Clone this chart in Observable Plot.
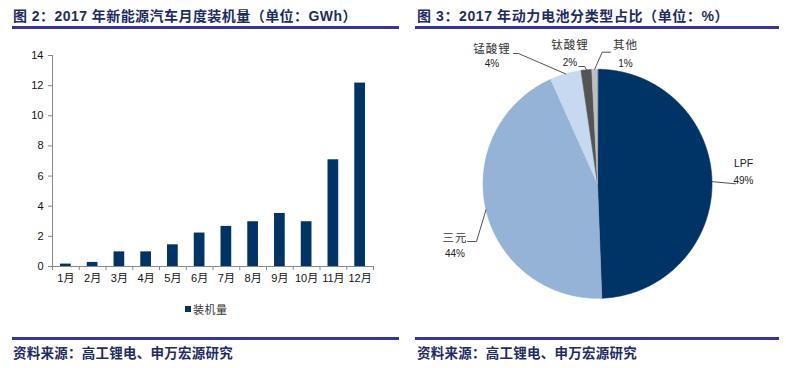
<!DOCTYPE html>
<html><head><meta charset="utf-8">
<script src="https://cdn.jsdelivr.net/npm/d3@7"></script>
<script src="https://cdn.jsdelivr.net/npm/@observablehq/plot@0.6"></script>
<style>
html,body{margin:0;padding:0;background:#fff;}
body{width:786px;height:368px;position:relative;overflow:hidden;font-family:"Liberation Sans","Noto Sans CJK SC",sans-serif;}
.abs{position:absolute;}
.title{font-weight:bold;font-size:14px;line-height:16px;color:#1c2c64;white-space:nowrap;font-family:"Liberation Sans","Noto Sans CJK SC",sans-serif;}
.rule{height:3px;background:#363699;}
.src{font-weight:bold;font-size:13.5px;line-height:16px;color:#1c2c64;white-space:nowrap;letter-spacing:0.25px;font-family:"Noto Sans CJK SC",sans-serif;}
.legend{font-size:11px;line-height:12px;color:#333;white-space:nowrap;letter-spacing:0.5px;font-family:"Noto Sans CJK SC",sans-serif;}
</style>
</head>
<body>
<div class="abs title" style="left:13px;top:8px;letter-spacing:0.45px;">图 2：2017 年新能源汽车月度装机量（单位：GWh）</div>
<div class="abs rule" style="left:12px;top:26px;width:387px;"></div>
<div class="abs title" style="left:417px;top:8px;letter-spacing:0.6px;">图 3：2017 年动力电池分类型占比（单位：%）</div>
<div class="abs rule" style="left:415px;top:26px;width:364px;"></div>

<div id="bar" class="abs" style="left:0;top:0;"></div>
<div id="pie" class="abs" style="left:400px;top:30px;"></div>

<div class="abs" style="left:185px;top:306px;width:6px;height:6px;background:#003366;"></div>
<div class="abs legend" style="left:193px;top:303px;">装机量</div>

<div class="abs rule" style="left:12px;top:337px;width:387px;"></div>
<div class="abs src" style="left:13px;top:344px;">资料来源：高工锂电、申万宏源研究</div>
<div class="abs rule" style="left:415px;top:337px;width:364px;"></div>
<div class="abs src" style="left:417px;top:344px;">资料来源：高工锂电、申万宏源研究</div>

<script>
// ---- data ----
const months = ["1月","2月","3月","4月","5月","6月","7月","8月","9月","10月","11月","12月"];
const installed = [0.16, 0.27, 0.97, 0.97, 1.44, 2.22, 2.66, 2.97, 3.52, 2.97, 7.08, 12.17];
const yTicks = [0, 2, 4, 6, 8, 10, 12, 14];

const pieNames = ["LPF", "三元", "锰酸锂", "钛酸锂", "其他"];
const pieShares = [49.4, 43.9, 4.4, 1.5, 0.8];
const pieLabels = ["49%", "44%", "4%", "2%", "1%"];

// ---- styles / layout ----
const barColor = "#003366";
const pieColors = ["#003366", "#95b3d7", "#c6d9f1", "#545454", "#bfbfbf"];
const R = 114.5; // pie radius in px
// label layout: pixel offsets from pie centre (y down)
const labelLayout = [
  {leader: [[138, 0]], tx: 146, ny: -20.3, py: -3.3},
  {leader: [[-121, 57.7], [-130, 57.7]], tx: -142.5, ny: 55, py: 70},
  {leader: [[-79, -130.3], [-84, -130.3]], tx: -105.5, ny: -134.3, py: -120},
  {leader: [[-12.7, -117.3], [-18.7, -117.3]], tx: -27.5, ny: -138.3, py: -120.6},
  {leader: [[4.7, -131.6], [13, -131.6]], tx: 28, ny: -138.3, py: -120.3}
];

// ---- bar chart ----
const bar = Plot.plot({
  width: 400, height: 320,
  marginLeft: 52, marginRight: 27, marginTop: 55, marginBottom: 54,
  style: {fontFamily: '"Liberation Sans","Noto Sans CJK SC",sans-serif', fontSize: "11px", color: "#111", background: "transparent"},
  x: {domain: [0.5, 12.5]},
  y: {domain: [0, 14]},
  marks: [
    Plot.rect(installed, {x1: (d, i) => i + 1 - 0.2, x2: (d, i) => i + 1 + 0.2, y1: () => 0, y2: d => d, fill: barColor}),
    Plot.ruleX([0.5], {stroke: "#888"}),
    Plot.ruleY([0], {stroke: "#888"}),
    Plot.axisY({ticks: yTicks, tickSize: 4, tickPadding: 5, stroke: "#888", fill: "#111", label: null}),
    Plot.axisX({ticks: d3.range(0.5, 12.6, 1), tickSize: 4, tickFormat: () => "", stroke: "#888", label: null}),
    Plot.axisX({ticks: d3.range(1, 13), tickSize: 0, tickPadding: 8, tickFormat: d => months[d - 1], fill: "#111", label: null})
  ]
});
document.getElementById("bar").appendChild(bar);

// ---- pie chart ----
const arcs = d3.pie().sort(null).value(d => d)(pieShares);
const slicePts = [];
const leaderPts = [];
const textRows = [];
arcs.forEach((a, i) => {
  const name = pieNames[i];
  slicePts.push({name, x: 0, y: 0});
  const n = Math.max(2, Math.ceil((a.endAngle - a.startAngle) / (Math.PI / 360)));
  for (let k = 0; k <= n; k++) {
    const t = a.startAngle + (a.endAngle - a.startAngle) * k / n;
    slicePts.push({name, x: Math.sin(t), y: Math.cos(t)});
  }
  const m = (a.startAngle + a.endAngle) / 2;
  const L = labelLayout[i];
  leaderPts.push({name, x: Math.sin(m), y: Math.cos(m)});
  L.leader.forEach(([dx, dy]) => leaderPts.push({name, x: dx / R, y: -dy / R}));
  textRows.push({text: name, x: L.tx / R, y: -L.ny / R, kind: /[^\x00-\x7f]/.test(name) ? "cjk" : "latin"});
  textRows.push({text: pieLabels[i], x: L.tx / R, y: -L.py / R, kind: "pct"});
});

const textFont = '"Liberation Sans","Noto Sans CJK SC",sans-serif';
const pie = Plot.plot({
  width: 386, height: 290,
  marginLeft: 82.5, marginRight: 74.5, marginTop: 38.8, marginBottom: 22.2,
  style: {fontFamily: textFont, fontSize: "10px", background: "transparent"},
  x: {domain: [-1, 1], axis: null},
  y: {domain: [-1, 1], axis: null},
  color: {domain: pieNames, range: pieColors},
  marks: [
    Plot.line(slicePts, {x: "x", y: "y", z: "name", fill: "name", stroke: "name", strokeWidth: 0.6, curve: "linear-closed"}),
    Plot.line(leaderPts, {x: "x", y: "y", z: "name", stroke: "#404040", strokeWidth: 0.9}),
    Plot.text(textRows.filter(d => d.kind === "cjk"), {x: "x", y: "y", text: "text", fill: "#333", fontSize: 11.5, fontFamily: textFont}),
    Plot.text(textRows.filter(d => d.kind === "latin"), {x: "x", y: "y", text: "text", fill: "#222", fontSize: 10.5}),
    Plot.text(textRows.filter(d => d.kind === "pct"), {x: "x", y: "y", text: "text", fill: "#222", fontSize: 10})
  ]
});
// widen CJK name labels slightly, as in the reference
const textGroups = pie.querySelectorAll('g[aria-label="text"]');
if (textGroups.length) textGroups[0].setAttribute("letter-spacing", "1");
document.getElementById("pie").appendChild(pie);
</script>
</body></html>
